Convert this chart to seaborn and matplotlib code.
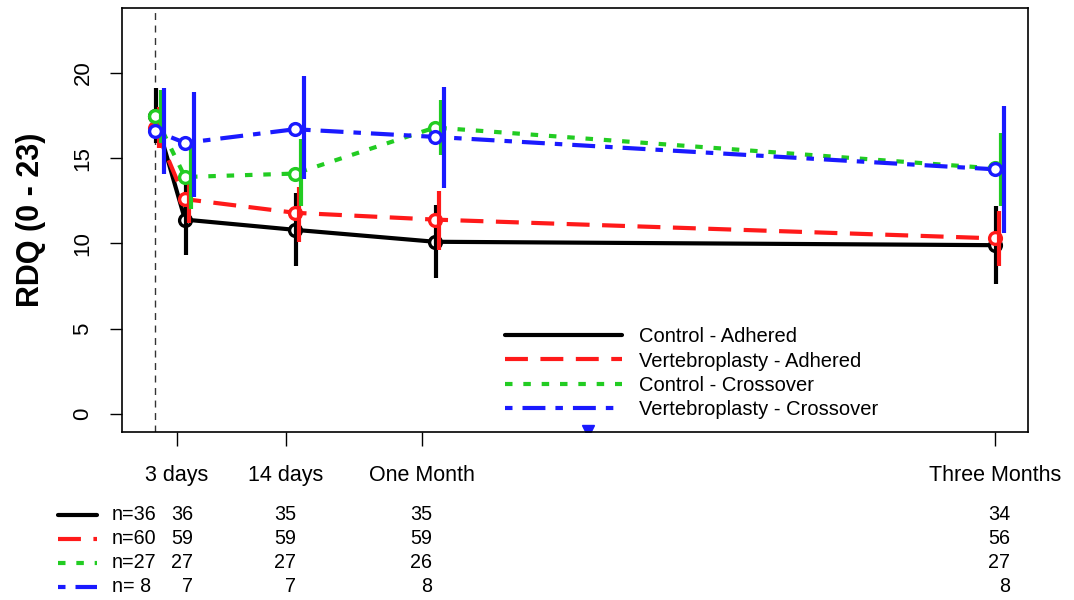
import numpy as np
import pandas as pd
import matplotlib
matplotlib.use("Agg")
import matplotlib.pyplot as plt
from matplotlib.lines import Line2D
import seaborn as sns

sns.set_theme(style="white")
plt.rcParams["font.family"] = ["Liberation Sans", "DejaVu Sans"]
plt.rcParams["text.color"] = "black"
plt.rcParams["axes.labelcolor"] = "black"
plt.rcParams["xtick.color"] = "black"
plt.rcParams["ytick.color"] = "black"

# time points in days (baseline, 3 days, 14 days, one month, three months)
days = [0, 3, 14, 28, 84]
groups = ["Control - Adhered", "Vertebroplasty - Adhered",
          "Control - Crossover", "Vertebroplasty - Crossover"]

# mean RDQ scores
mean_ctrl_adh = [17.5, 11.4, 10.8, 10.1, 9.9]
mean_vert_adh = [16.8, 12.6, 11.8, 11.4, 10.3]
mean_ctrl_cross = [17.5, 13.9, 14.1, 16.8, 14.4]
mean_vert_cross = [16.6, 15.9, 16.7, 16.25, 14.35]

# error bar ends
lo_ctrl_adh = [15.9, 9.3, 8.7, 8.0, 7.6]
hi_ctrl_adh = [19.1, 13.5, 12.95, 12.25, 12.2]
lo_vert_adh = [15.6, 11.2, 10.1, 9.6, 8.7]
hi_vert_adh = [18.0, 14.1, 13.3, 13.1, 11.9]
lo_ctrl_cross = [15.9, 12.0, 12.2, 15.2, 12.2]
hi_ctrl_cross = [19.0, 15.8, 16.1, 18.4, 16.5]
lo_vert_cross = [14.1, 12.7, 13.8, 13.25, 10.6]
hi_vert_cross = [19.1, 18.9, 19.8, 19.2, 18.05]

# numbers at risk
n_labels = ["n=36", "n=60", "n=27", "n= 8"]
n_ctrl_adh = [36, 35, 35, 34]
n_vert_adh = [59, 59, 59, 56]
n_ctrl_cross = [27, 27, 26, 27]
n_vert_cross = [7, 7, 8, 8]

tick_labels = ["3 days", "14 days", "One Month", "Three Months"]

means = [mean_ctrl_adh, mean_vert_adh, mean_ctrl_cross, mean_vert_cross]
lows = [lo_ctrl_adh, lo_vert_adh, lo_ctrl_cross, lo_vert_cross]
highs = [hi_ctrl_adh, hi_vert_adh, hi_ctrl_cross, hi_vert_cross]
counts = [n_ctrl_adh, n_vert_adh, n_ctrl_cross, n_vert_cross]

colors = {groups[0]: "#000000", groups[1]: "#ff1a1a",
          groups[2]: "#22cc22", groups[3]: "#1a1aff"}
dashes = {groups[0]: "", groups[1]: (5.5, 3),
          groups[2]: (1.8, 2.6), groups[3]: (1.8, 2.4, 5.5, 2.4)}
bar_shift = [0.1, 0.35, 0.6, 0.9]

df = pd.DataFrame({
    "day": days * len(groups),
    "rdq": sum(means, []),
    "group": np.repeat(groups, len(days)),
})

W, H = 1074, 600
fig = plt.figure(figsize=(W / 100, H / 100), dpi=100)
ax = fig.add_axes([122 / W, 1 - 432 / H, 906 / W, 424 / H])

sns.lineplot(data=df, x="day", y="rdq", hue="group", style="group",
             palette=colors, dashes=dashes, linewidth=3, sort=False,
             errorbar=None, legend=False, ax=ax, zorder=2)

for gi, g in enumerate(groups):
    ax.plot(days, means[gi], ls="none", marker="o", ms=8.5, mew=2.4,
            mfc="white", mec=colors[g], zorder=3 + gi)
    ax.vlines(np.array(days) + bar_shift[gi], lows[gi], highs[gi],
              color=colors[g], lw=3, zorder=3 + gi)

# baseline marker line
ax.axvline(0, color="#333333", lw=1, ls=(0, (5, 4)), zorder=1)
# stray mark on the bottom edge
ax.plot([43.3], [-1.0], marker="v", ms=8, color=colors[groups[3]], clip_on=True)

ax.set_xlim(-3.3, 87.3)
ax.set_ylim(-1.056, 23.81)
ax.set_yticks([0, 5, 10, 15, 20])
ax.set_xticks([2.2, 13.1, 26.7, 84])
ax.set_xticklabels(tick_labels, fontsize=15.5)
ax.tick_params(axis="x", length=10, width=1, pad=13.5, direction="out", bottom=True)
ax.tick_params(axis="y", length=8.5, width=1, pad=12, direction="out", left=True,
               labelsize=16)
for lab in ax.get_yticklabels():
    lab.set_rotation(90)
    lab.set_va("center")
ax.set_xlabel("")
ax.set_ylabel("RDQ (0 - 23)", fontsize=22, fontweight="bold", labelpad=19)
for s in ax.spines.values():
    s.set_color("black")
    s.set_linewidth(1.2)

handles = [Line2D([], [], color=colors[g], lw=3,
                  ls="-" if dashes[g] == "" else (0, dashes[g]))
           for g in groups]
ax.legend(handles, groups, loc="upper left", bbox_to_anchor=(0.423, 0.247),
          frameon=False, fontsize=14.5, handlelength=5.8, handletextpad=0.85,
          labelspacing=0.26, borderpad=0, borderaxespad=0)

# numbers-at-risk table under the plot
row_y = [515, 539, 563, 587]
col_x = [193, 296, 432, 1010]
for gi, g in enumerate(groups):
    fy = 1 - row_y[gi] / H
    fig.add_artist(Line2D([58 / W, 97 / W], [fy, fy], transform=fig.transFigure,
                          color=colors[g], lw=3,
                          ls="-" if dashes[g] == "" else (0, dashes[g])))
    fig.text(112 / W, fy, n_labels[gi], fontsize=14.2, ha="left", va="center")
    for ci, n in enumerate(counts[gi]):
        fig.text(col_x[ci] / W, fy, str(n), fontsize=14.2, ha="right", va="center")

fig.savefig("out.png", dpi=100)
